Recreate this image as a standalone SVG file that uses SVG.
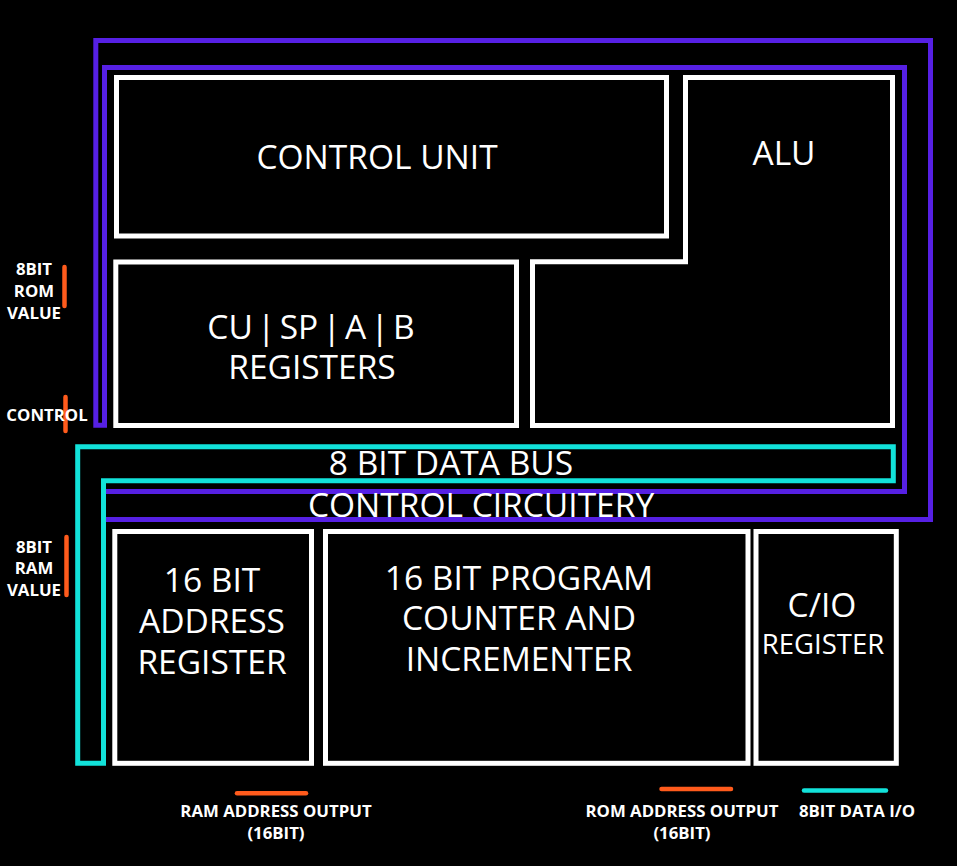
<svg xmlns="http://www.w3.org/2000/svg" width="957" height="866" viewBox="0 0 957 866">
<style>
.box{fill:none;stroke:#ffffff;stroke-width:5}
.bus{fill:none;stroke-width:5;stroke-linejoin:miter}
.purple{stroke:#5620e4}
.cyan{stroke:#12e2da}
.tick{stroke-width:4.5;stroke-linecap:round}
.org{stroke:#ff5b1c}
.big{font-family:"Open Sans","Liberation Sans",sans-serif;font-size:33.5px;fill:#ffffff;text-anchor:middle}
.mid{font-family:"Open Sans","Liberation Sans",sans-serif;font-size:27.5px;fill:#ffffff;text-anchor:middle}
.lbl{font-family:"Open Sans","Liberation Sans",sans-serif;font-size:16.8px;font-weight:bold;fill:#ffffff;text-anchor:middle}
</style>
<rect width="957" height="866" fill="#000000"/>
<g id="connectors">
<path class="bus purple" d="M106,491.5 H904.5 V67.5 H104.5 V425.2 H95.8 V40.5 H930.5 V519.5 H106"/>
<path class="bus cyan" d="M77.7,446.7 H893.3 V480.7 H103.5 V763.3 H77.7 Z"/>
<line class="tick org" x1="64.5" y1="267" x2="64.5" y2="306"/>
<line class="tick org" x1="65.5" y1="397" x2="65.5" y2="431"/>
<line class="tick org" x1="66.5" y1="537" x2="66.5" y2="595"/>
<line class="tick org" x1="237" y1="793.3" x2="306" y2="793.3"/>
<line class="tick org" x1="661.5" y1="789" x2="731" y2="789"/>
<line class="tick cyan" x1="804" y1="790.5" x2="886" y2="790.5"/>
</g>
<g id="control-unit">
<rect class="box" x="116.5" y="77.5" width="550" height="158.5"/>
<text class="big" x="377" y="169">CONTROL UNIT</text>
</g>
<g id="alu">
<path class="box" d="M685.5,77.5 H892.5 V425.5 H532.5 V261.7 H685.5 Z"/>
<text class="big" x="784" y="165">ALU</text>
</g>
<g id="registers">
<rect class="box" x="115.8" y="262" width="400.7" height="163.5"/>
<text class="big" x="311" y="339" word-spacing="-4.5">CU | SP | A | B</text>
<text class="big" x="312" y="379">REGISTERS</text>
</g>
<g id="data-bus">
<text class="big" x="451" y="475">8 BIT DATA BUS</text>
</g>
<g id="control-circuitry">
<text class="big" x="481" y="517">CONTROL CIRCUITERY</text>
</g>
<g id="address-register">
<rect class="box" x="114.8" y="531.5" width="196.7" height="231.8"/>
<text class="big" x="212" y="592">16 BIT</text>
<text class="big" x="212" y="633">ADDRESS</text>
<text class="big" x="212" y="674">REGISTER</text>
</g>
<g id="program-counter">
<rect class="box" x="325.5" y="531.5" width="422.5" height="231.8"/>
<text class="big" x="519" y="590">16 BIT PROGRAM</text>
<text class="big" x="519" y="630">COUNTER AND</text>
<text class="big" x="519" y="671">INCREMENTER</text>
</g>
<g id="cio-register">
<rect class="box" x="756" y="531.5" width="140.3" height="231.8"/>
<text class="big" x="822" y="617">C/IO</text>
<text class="mid" x="823" y="654">REGISTER</text>
</g>
<g id="labels">
<text class="lbl" x="34" y="275">8BIT</text>
<text class="lbl" x="34" y="297">ROM</text>
<text class="lbl" x="34" y="319">VALUE</text>
<text class="lbl" x="47" y="421">CONTROL</text>
<text class="lbl" x="34" y="553">8BIT</text>
<text class="lbl" x="34" y="574">RAM</text>
<text class="lbl" x="34" y="596">VALUE</text>
<text class="lbl" x="276" y="817">RAM ADDRESS OUTPUT</text>
<text class="lbl" x="276" y="839">(16BIT)</text>
<text class="lbl" x="682" y="817">ROM ADDRESS OUTPUT</text>
<text class="lbl" x="682" y="839">(16BIT)</text>
<text class="lbl" x="857" y="817">8BIT DATA I/O</text>
</g>
</svg>
